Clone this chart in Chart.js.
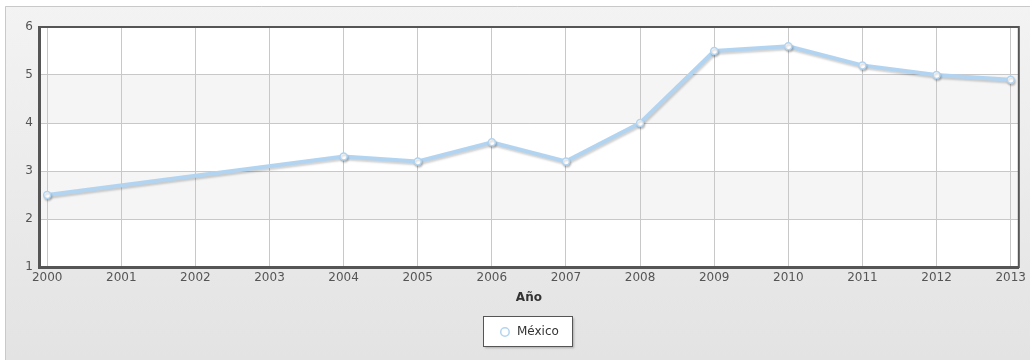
<!DOCTYPE html>
<html>
<head>
<meta charset="utf-8">
<script src="https://cdn.jsdelivr.net/npm/chart.js@4/dist/chart.umd.min.js"></script>
<style>
  html, body { margin: 0; padding: 0; background: #fff; }
  #wrap { width: 1030px; height: 360px; }
</style>
</head>
<body>
<div id="wrap"><canvas id="chart" width="1030" height="360"></canvas></div>
<script>
// Chart data
const years = [2000, 2001, 2002, 2003, 2004, 2005, 2006, 2007, 2008, 2009, 2010, 2011, 2012, 2013];
const mexicoValues = [2.5, null, null, null, 3.3, 3.2, 3.6, 3.2, 4.0, 5.5, 5.6, 5.2, 5.0, 4.9];
const yMin = 1;
const yMax = 6;
const seriesLabel = 'México';
const xTitle = 'Año';

const lineColor = '#b3d4f0';
const fontFamily = '"DejaVu Sans", Verdana, sans-serif';

// Background panel, alternating bands and legend box
const panelPlugin = {
    id: 'panel',
    afterLayout(chart) {
        // center the legend under the plot area instead of the whole canvas
        const legend = chart.legend;
        const area = chart.chartArea;
        const shift = (area.left + area.right) / 2 - (legend.left + legend.right) / 2;
        legend.left += shift;
        legend.right += shift;
    },
    beforeDraw(chart) {
        const ctx = chart.ctx;
        const area = chart.chartArea;
        const yScale = chart.scales.y;
        ctx.save();
        ctx.fillStyle = '#fff';
        ctx.fillRect(0, 0, chart.width, chart.height);

        const grad = ctx.createLinearGradient(0, 6, 0, chart.height);
        grad.addColorStop(0, '#f3f3f3');
        grad.addColorStop(1, '#e3e3e3');
        ctx.fillStyle = grad;
        ctx.fillRect(5, 6, chart.width, chart.height);
        ctx.strokeStyle = '#c9c9c9';
        ctx.lineWidth = 1;
        ctx.beginPath();
        ctx.moveTo(5.5, chart.height);
        ctx.lineTo(5.5, 6.5);
        ctx.lineTo(chart.width, 6.5);
        ctx.stroke();

        // plot area bands
        for (let v = yMin; v < yMax; v++) {
            const top = yScale.getPixelForValue(v + 1);
            const bottom = yScale.getPixelForValue(v);
            ctx.fillStyle = (v === 2 || v === 4) ? '#f5f5f5' : '#ffffff';
            ctx.fillRect(area.left, top, area.right - area.left, bottom - top);
        }

        // legend box
        const hb = chart.legend.legendHitBoxes[0];
        if (hb) {
            const x = Math.round(hb.left) - 15.5;
            const y = Math.round(hb.top + hb.height / 2) - 15.5;
            const w = Math.round(hb.width) + 29;
            const h = 30;
            ctx.shadowColor = 'rgba(0,0,0,0.25)';
            ctx.shadowOffsetX = 1;
            ctx.shadowOffsetY = 1;
            ctx.shadowBlur = 2;
            ctx.fillStyle = '#fff';
            ctx.fillRect(x, y, w, h);
            ctx.shadowColor = 'transparent';
            ctx.strokeStyle = '#555';
            ctx.strokeRect(x, y, w, h);
        }
        ctx.restore();
    },
    beforeDatasetsDraw(chart) {
        const ctx = chart.ctx;
        const a = chart.chartArea;
        ctx.save();
        ctx.strokeStyle = '#555';
        ctx.lineWidth = 2;
        ctx.strokeRect(a.left, a.top, a.right - a.left, a.bottom - a.top);
        ctx.restore();
    },
    beforeDatasetDraw(chart) {
        const ctx = chart.ctx;
        ctx.save();
        ctx.shadowColor = 'rgba(0,0,0,0.18)';
        ctx.shadowOffsetX = 1;
        ctx.shadowOffsetY = 2;
        ctx.shadowBlur = 2;
    },
    afterDatasetDraw(chart) {
        chart.ctx.restore();
    }
};

const ctx = document.getElementById('chart').getContext('2d');
new Chart(ctx, {
    type: 'line',
    data: {
        datasets: [{
            label: seriesLabel,
            data: years.map((yr, i) => ({ x: yr, y: mexicoValues[i] })),
            borderColor: lineColor,
            backgroundColor: '#ffffff',
            borderWidth: 4,
            pointRadius: 3.5,
            pointBorderWidth: 1.5,
            pointBackgroundColor: '#ffffff',
            pointBorderColor: lineColor,
            spanGaps: true,
            tension: 0
        }]
    },
    options: {
        responsive: false,
        animation: false,
        devicePixelRatio: 1,
        layout: { padding: { left: 0, right: 9, top: 27, bottom: 12 } },
        scales: {
            x: {
                type: 'linear',
                min: 1999.89,
                max: 2013.11,
                afterFit(scale) { scale.height = 49; },
                grid: { color: '#c8c8c8', drawTicks: false },
                border: { display: true, color: '#555', width: 3 },
                ticks: {
                    stepSize: 1,
                    includeBounds: false,
                    padding: 4,
                    maxRotation: 0,
                    autoSkip: false,
                    color: '#555',
                    font: { family: fontFamily, size: 12 },
                    callback: v => String(v)
                },
                title: {
                    display: true,
                    text: xTitle,
                    color: '#333',
                    padding: { top: 2, bottom: 11 },
                    font: { family: fontFamily, size: 12, weight: 'bold' }
                }
            },
            y: {
                min: yMin,
                max: yMax,
                afterFit(scale) { scale.width = 39; },
                grid: { color: '#c8c8c8', drawTicks: false },
                border: { display: true, color: '#555', width: 3 },
                ticks: {
                    stepSize: 1,
                    padding: 6,
                    color: '#555',
                    font: { family: fontFamily, size: 12 }
                }
            }
        },
        plugins: {
            legend: {
                position: 'bottom',
                labels: {
                    usePointStyle: true,
                    pointStyle: 'circle',
                    boxHeight: 6,
                    color: '#333',
                    padding: 10,
                    font: { family: fontFamily, size: 12 },
                    generateLabels(chart) {
                        const items = Chart.defaults.plugins.legend.labels.generateLabels(chart);
                        items.forEach(it => { it.lineWidth = 1.5; it.fillStyle = '#fff'; it.strokeStyle = lineColor; });
                        return items;
                    }
                }
            },
            tooltip: { enabled: false }
        }
    },
    plugins: [panelPlugin]
});
</script>
</body>
</html>
